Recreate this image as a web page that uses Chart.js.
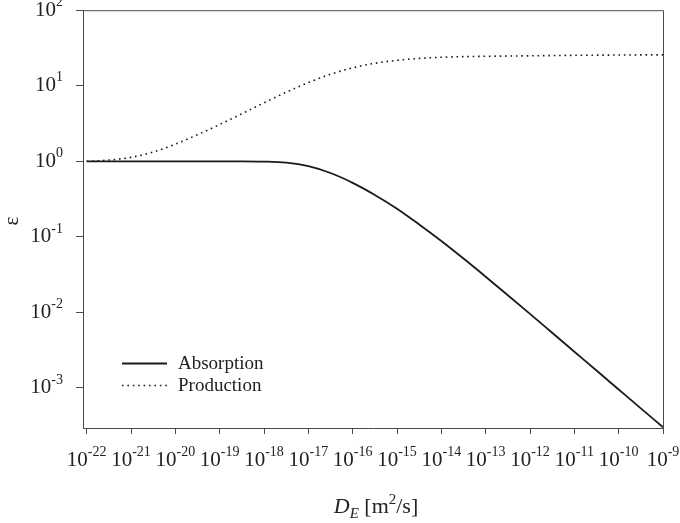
<!DOCTYPE html>
<html>
<head>
<meta charset="utf-8">
<script src="https://cdn.jsdelivr.net/npm/chart.js@4/dist/chart.umd.min.js"></script>
<style>
  html, body { margin: 0; padding: 0; background: #fff; }
  #c { display: block; }
</style>
</head>
<body>
<canvas id="c" width="680" height="523"></canvas>
<script>
// ---- data ----
const diffusivity = [1e-22, 3.16e-22, 1e-21, 3.16e-21, 1e-20, 3.16e-20, 1e-19, 3.16e-19,
  1e-18, 3.16e-18, 1e-17, 3.16e-17, 1e-16, 3.16e-16, 1e-15, 3.16e-15, 1e-14, 3.16e-14,
  1e-13, 3.16e-13, 1e-12, 3.16e-12, 1e-11, 3.16e-11, 1e-10, 3.16e-10, 1e-9];
const absorption = [1.0, 1.0, 1.0, 1.0, 1.0, 1.0, 1.0, 1.0,
  0.993, 0.959, 0.861, 0.700, 0.519, 0.359, 0.236, 0.146, 0.0881, 0.0516,
  0.0297, 0.0169, 0.00955, 0.00537, 0.00302, 0.0017, 0.000955, 0.000537, 0.000302];
const production = [1.0, 1.04, 1.127, 1.324, 1.687, 2.249, 3.069, 4.256,
  5.943, 8.204, 11.02, 14.19, 17.26, 19.82, 21.73, 23.01, 23.82, 24.27,
  24.55, 24.72, 24.9, 25.1, 25.3, 25.4, 25.5, 25.6, 25.6];
const seriesNames = ['Absorption', 'Production'];
const xTickExponents = [-22, -21, -20, -19, -18, -17, -16, -15, -14, -13, -12, -11, -10, -9];
const yTickExponents = [-3, -2, -1, 0, 1, 2];
const yAxisTitle = 'ε';

const SERIF = '"Liberation Serif", "DejaVu Serif", serif';
const AXIS_COLOR = '#4a4a4a';

function pts(ys) { return diffusivity.map((d, i) => ({ x: d, y: ys[i] })); }

function drawPow(ctx, exp, x, y, align) {
  const baseFont = '21px ' + SERIF;
  const expFont = '14px ' + SERIF;
  const base = '10';
  const e = String(exp);
  ctx.font = baseFont;
  const wb = ctx.measureText(base).width;
  ctx.font = expFont;
  const we = ctx.measureText(e).width;
  const total = wb + we;
  let left = align === 'right' ? x - total : x - total / 2;
  ctx.textBaseline = 'middle';
  ctx.textAlign = 'left';
  ctx.fillStyle = '#222';
  ctx.font = baseFont;
  ctx.fillText(base, left, y);
  ctx.font = expFont;
  ctx.fillText(e, left + wb, y - 8);
}

const decor = {
  id: 'decor',
  afterDraw(chart) {
    const ctx = chart.ctx;
    const a = chart.chartArea;
    const xs = chart.scales.x, ys = chart.scales.y;
    ctx.save();
    // top & right frame
    ctx.strokeStyle = AXIS_COLOR;
    ctx.lineWidth = 1;
    ctx.beginPath();
    ctx.moveTo(a.left, a.top + 0.5);
    ctx.lineTo(a.right + 0.5, a.top + 0.5);
    ctx.lineTo(a.right + 0.5, a.bottom);
    ctx.stroke();
    // tick labels
    xTickExponents.forEach(e => {
      const px = xs.getPixelForValue(Math.pow(10, e));
      drawPow(ctx, e, px, a.bottom + 32, 'center');
    });
    yTickExponents.forEach(e => {
      const py = ys.getPixelForValue(Math.pow(10, e));
      drawPow(ctx, e, 63, py, 'right');
    });
    // y title
    ctx.save();
    ctx.translate(12, (a.top + a.bottom) / 2 + 2);
    ctx.rotate(-Math.PI / 2);
    ctx.font = '21px ' + SERIF;
    ctx.textAlign = 'center';
    ctx.textBaseline = 'middle';
    ctx.fillStyle = '#222';
    ctx.fillText(yAxisTitle, 0, 0);
    ctx.restore();
    // x title: D_E [m^2/s]
    const parts = [
      { t: 'D', f: 'italic 22px ' + SERIF, dy: 0 },
      { t: 'E', f: 'italic 15px ' + SERIF, dy: 5 },
      { t: ' [m', f: '22px ' + SERIF, dy: 0 },
      { t: '2', f: '15px ' + SERIF, dy: -9 },
      { t: '/s]', f: '22px ' + SERIF, dy: 0 }
    ];
    let w = 0;
    parts.forEach(p => { ctx.font = p.f; p.w = ctx.measureText(p.t).width; w += p.w; });
    let cx = (a.left + a.right) / 2 - w / 2 + 3;
    const ty = 513;
    ctx.textAlign = 'left';
    ctx.textBaseline = 'alphabetic';
    ctx.fillStyle = '#222';
    parts.forEach(p => { ctx.font = p.f; ctx.fillText(p.t, cx, ty + p.dy); cx += p.w; });
    // legend
    const ds = chart.data.datasets;
    const lx0 = 122, lx1 = 167, tx = 178;
    const rows = [363, 385];
    ds.forEach((d, i) => {
      ctx.beginPath();
      ctx.strokeStyle = d.borderColor;
      ctx.lineWidth = d.borderWidth;
      ctx.setLineDash(d.borderDash || []);
      ctx.moveTo(lx0, rows[i] + 0.5);
      ctx.lineTo(lx1, rows[i] + 0.5);
      ctx.stroke();
      ctx.setLineDash([]);
      ctx.font = '19px ' + SERIF;
      ctx.textBaseline = 'middle';
      ctx.fillStyle = '#222';
      ctx.fillText(d.label, tx, rows[i] + 1);
    });
    ctx.restore();
  }
};

new Chart(document.getElementById('c'), {
  type: 'line',
  data: {
    datasets: [
      { label: seriesNames[0], data: pts(absorption), borderColor: '#1a1a1a', borderWidth: 1.8,
        pointRadius: 0, cubicInterpolationMode: 'monotone', fill: false },
      { label: seriesNames[1], data: pts(production), borderColor: '#1a1a1a', borderWidth: 1.6,
        borderDash: [1.6, 3.8], pointRadius: 0, cubicInterpolationMode: 'monotone', fill: false }
    ]
  },
  options: {
    responsive: false,
    animation: false,
    devicePixelRatio: 1,
    layout: { padding: { top: 10, right: 17, left: 0, bottom: 0 } },
    plugins: { legend: { display: false }, tooltip: { enabled: false } },
    scales: {
      x: {
        type: 'logarithmic',
        min: Math.pow(10, -22.083),
        max: 1e-9,
        afterBuildTicks: s => { s.ticks = xTickExponents.map(e => ({ value: Math.pow(10, e) })); },
        afterFit: s => { s.height = 95; },
        ticks: { callback: () => '', autoSkip: false, maxRotation: 0 },
        grid: { drawOnChartArea: false, drawTicks: true, tickLength: 6, color: AXIS_COLOR },
        border: { color: AXIS_COLOR, width: 1 }
      },
      y: {
        type: 'logarithmic',
        min: Math.pow(10, -3.53),
        max: 100,
        afterBuildTicks: s => { s.ticks = yTickExponents.map(e => ({ value: Math.pow(10, e) })); },
        afterFit: s => { s.width = 83; },
        ticks: { callback: () => '', autoSkip: false },
        grid: { drawOnChartArea: false, drawTicks: true, tickLength: 7, color: AXIS_COLOR },
        border: { color: AXIS_COLOR, width: 1 }
      }
    }
  },
  plugins: [decor]
});
</script>
</body>
</html>
